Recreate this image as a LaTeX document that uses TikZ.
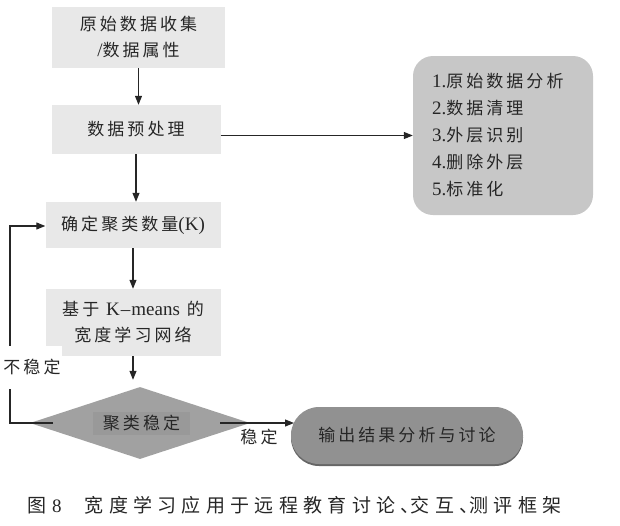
\documentclass[tikz,border=0pt]{standalone}
\usepackage{fontspec}
\setmainfont{Liberation Serif}
\newfontfamily\cjk[LetterSpace=18]{Noto Sans CJK SC}
\newfontfamily\cjkcap[LetterSpace=28]{Noto Sans CJK SC}
\usetikzlibrary{arrows.meta,shapes.geometric,shadows,calc}
\newcommand\lat[1]{{\rmfamily\fontsize{19}{26}\selectfont #1}}
\begin{document}
\begin{tikzpicture}[x=1pt,y=-1pt,
  txt/.style={text=black!85, font=\fontsize{17}{26}\selectfont\cjk},
  box/.style={txt, rectangle, fill=black!9, inner sep=0pt, align=center},
  arr/.style={-{Triangle[length=9pt,width=7pt]}, line width=1.1pt, draw=black!85},
  ln/.style={line width=1.1pt, draw=black!85}]
\useasboundingbox (0,0) rectangle (620,525);
% boxes
\node[box, minimum width=173pt, minimum height=61pt] (b1) at (138.5,37.5) {原始数据收集\\\lat{/}数据属性};
\node[box, minimum width=169pt, minimum height=49pt] (b2) at (136,129.5) {数据预处理};
\node[box, minimum width=175pt, minimum height=46pt] (b3) at (133,225) {确定聚类数量\lat{(K)}};
\node[box, minimum width=175pt, minimum height=67pt] (b4) at (133,322.5) {基于 \lat{K\kern1pt--\kern1pt means} 的\\宽度学习网络};
\node[txt, rectangle, rounded corners=20pt, fill=black!22, minimum width=180pt, minimum height=159pt, inner sep=0pt, text width=142pt, align=left, font=\fontsize{17}{27}\selectfont\cjk] (rb) at (503,135.5)
  {\lat{1.}原始数据分析\\\lat{2.}数据清理\\\lat{3.}外层识别\\\lat{4.}删除外层\\\lat{5.}标准化};
% diamond
\node[diamond, aspect=3, fill=black!37, minimum width=220pt, minimum height=72pt, inner sep=0pt] (dia) at (140,423) {};
\node[txt, rectangle, fill=black!40, minimum width=97pt, minimum height=23pt, inner sep=0pt] (dt) at (141.5,423.5) {聚类稳定};
% output
\node[txt, rectangle, rounded corners=28pt, fill=black!43, minimum width=232pt, minimum height=57pt, inner sep=0pt,
  drop shadow={shadow xshift=0pt, shadow yshift=-2pt, fill=black!60, opacity=1}] (out) at (407,435.5) {输出结果分析与讨论};
% arrows
\draw[arr] (b1.south) -- (b1.south |- b2.north);
\draw[arr] (b2.south) -- (b2.south |- b3.north);
\draw[arr] (b3.south) -- (b3.south |- b4.north);
\draw[arr, shorten >=7pt] (b4.south) -- (b4.south |- dia.north);
\draw[arr] (b2.east |- rb.west) -- (rb.west);
% loop back
\coordinate (lpA) at (53,423);
\coordinate (lpB) at (10,423);
\coordinate (lpC) at (10,226);
\draw[arr] (lpA) -- (lpB) -- (lpC) -- (lpC -| b3.west);
\node[txt, fill=white, minimum height=43pt, inner sep=1pt] (ns) at (32,367) {不稳定};
% to output
\coordinate (ra) at (220,423);
\coordinate (rt) at (294,423);
\draw[arr] (ra) -- (rt);
\node[txt, inner sep=1pt] (st) at (259,437) {稳定};
% caption
\node[anchor=west, inner sep=0pt, text=black!85] (cap) at (27,505)
  {{\fontsize{19}{20}\selectfont\cjkcap 图}\hspace{6pt}\lat{8}\hspace{23pt}{\fontsize{19}{20}\selectfont\cjkcap 宽度学习应用于远程教育讨论、\kern-9pt交互、\kern-9pt测评框架}};
\end{tikzpicture}
\end{document}
